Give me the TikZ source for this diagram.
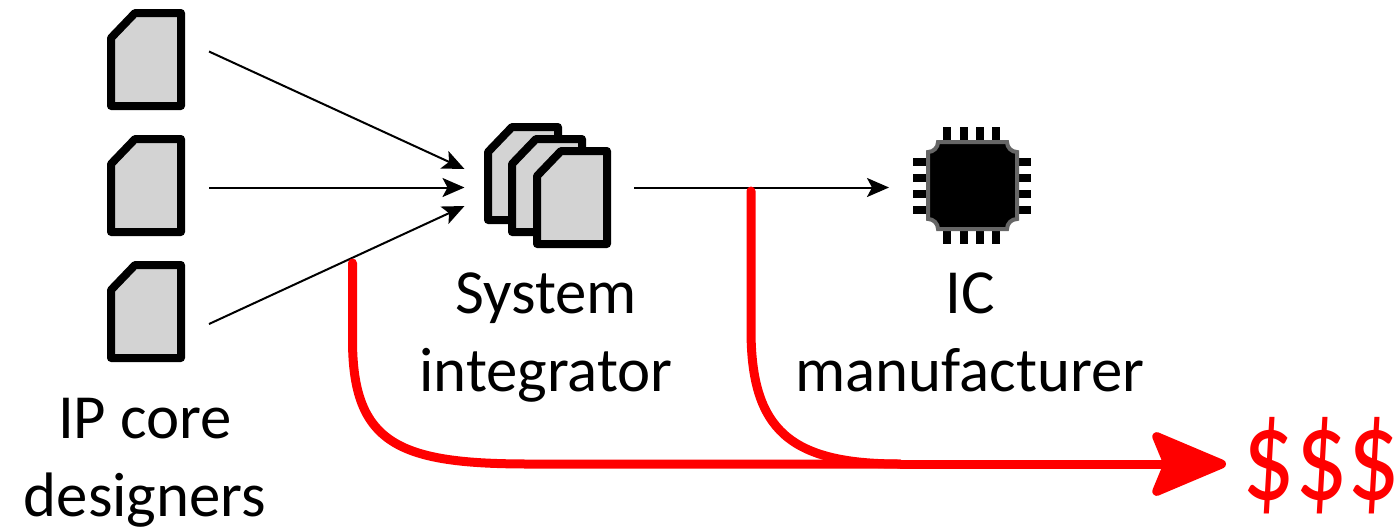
\documentclass[tikz,border=0pt]{standalone}
\usepackage{fontspec}
\setmainfont{Carlito}
\usetikzlibrary{arrows.meta}
\definecolor{docgray}{HTML}{D3D3D3}
\definecolor{chipedge}{HTML}{666666}
\tikzset{
  x=0.5pt,y=-0.5pt,
  docicon/.style={draw=black,fill=docgray,line width=4pt,line join=round},
  flow/.style={draw=black,line width=1pt,-{Stealth[length=11pt,width=9.5pt,inset=2.5pt]}},
  money/.style={draw=red,line width=4.5pt,line cap=round},
  moneyend/.style={draw=red,line width=4.5pt,-{Stealth[round,length=42pt,width=35pt,inset=7pt]}},
  pin/.style={draw=black,line width=4pt},
  lbl/.style={font=\fontsize{31.4}{36}\selectfont,anchor=base,inner sep=0pt},
}
\newcommand{\docshape}[2]{%
  \draw[docicon] (#1+0,#2+25) -- (#1+24,#2+0) -- (#1+70,#2+0) -- (#1+70,#2+93) -- (#1+0,#2+93) -- cycle;}
\begin{document}
\begin{tikzpicture}
\useasboundingbox (0,0) rectangle (1400,531);
% documents
\docshape{111}{13}
\docshape{111}{139}
\docshape{111}{265}
\docshape{488}{127}
\docshape{512}{139}
\docshape{537}{151}
% chip
\foreach \p in {947.3,963.7,980,996.3}{
  \draw[pin] (\p,127) -- (\p,244);
}
\foreach \p in {161.7,177.7,194,210}{
  \draw[pin] (913,\p) -- (1031,\p);
}
\draw[fill=black,draw=chipedge,line width=2pt]
  (938,142) -- (1007,142)
  arc[start angle=180,end angle=270,x radius=10,y radius=-10]
  -- (1017,219)
  arc[start angle=90,end angle=180,x radius=10,y radius=-10]
  -- (938,229)
  arc[start angle=0,end angle=90,x radius=10,y radius=-10]
  -- (928,152)
  arc[start angle=270,end angle=360,x radius=10,y radius=-10]
  -- cycle;
% connector ends
\coordinate (a1) at (209,51.5);
\coordinate (a2) at (209,187.5);
\coordinate (a3) at (209,324);
\coordinate (t1) at (464.5,169);
\coordinate (t2) at (464.5,187.5);
\coordinate (t3) at (464.5,206);
\coordinate (s) at (634,187.5);
\coordinate (c) at (889,187.5);
\coordinate (r1) at (352.5,263);
\coordinate (r2) at (751,191);
\coordinate (m) at (1226,464);
\coordinate (j) at (900,464);
\draw[flow] (a1) -- (t1);
\draw[flow] (a2) -- (t2);
\draw[flow] (a3) -- (t3);
\draw[flow] (s) -- (c);
% red flows
\draw[money] (r2) -- (751,330) .. controls (751,430) and (790,464) .. (j);
\draw[money] (r1) -- (352.5,340) .. controls (352.5,445) and (400,464) .. (530,464) -- (j);
\draw[moneyend] (j) -- (m);
% labels
\node[lbl] (sys1) at (546,313) {System};
\node[lbl] (sys2) at (546,391) {integrator};
\node[lbl] (ic1) at (970,313) {IC};
\node[lbl] (ic2) at (970,391) {manufacturer};
\node[lbl] (ip1) at (145,438) {IP core};
\node[lbl] (ip2) at (145,516) {designers};
\node[lbl,text=red,font=\fontsize{52}{60}\selectfont] (usd) at (1321.5,499) {\scalebox{1.0}[1.25]{\$\$\$}};
\end{tikzpicture}
\end{document}
